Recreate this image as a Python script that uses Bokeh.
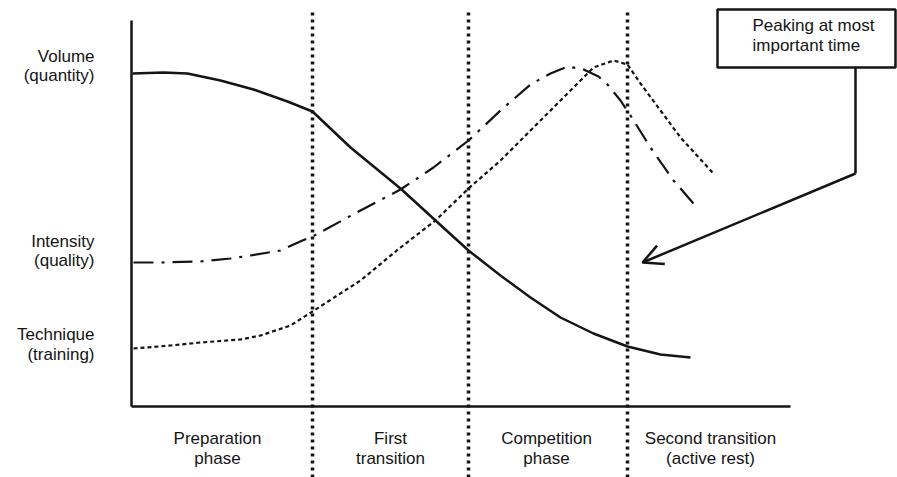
from bokeh.plotting import figure
from bokeh.models import Range1d, Arrow, OpenHead
from bokeh.core.properties import value
from bokeh.embed import file_html
from bokeh.resources import INLINE

# ---- data (time units along x, training level along y) ----
vol_x = [1, 32, 56, 89, 122, 156, 181, 219, 269, 304, 337, 369, 399, 429, 462, 496, 529, 559]
vol_y = [333, 334, 333, 326, 317, 305, 295, 259, 218, 186, 156, 131, 109, 89, 73, 60, 52, 49]

int_x = [2, 29, 69, 99, 119, 149, 171, 181, 229, 269, 302, 337, 369, 399, 419, 436, 452, 467, 476, 489, 499, 519, 542, 562]
int_y = [144, 144, 145, 148, 151, 156, 166, 170, 196, 217, 239, 266, 296, 322, 333, 340, 337, 330, 322, 306, 291, 259, 226, 203]

tec_x = [2, 39, 69, 109, 129, 159, 181, 229, 269, 304, 337, 369, 399, 429, 442, 462, 482, 496, 509, 529, 549, 581]
tec_y = [58, 61, 64, 67, 71, 81, 95, 126, 159, 186, 218, 246, 276, 306, 319, 339, 346, 342, 323, 296, 269, 234]

phase_bounds = [181, 337, 496]
axis_x_end = 659
axis_y_end = 386

left_labels = ["Volume", "(quantity)", "Intensity", "(quality)", "Technique", "(training)"]
left_label_y = [350, 331, 165, 146, 72, 52]

phase_labels_1 = ["Preparation", "First", "Competition", "Second transition"]
phase_labels_2 = ["phase", "transition", "phase", "(active rest)"]
phase_label_x = [86, 259, 415, 579]

note_lines = ["Peaking at most", "important time"]

INK = "#141414"
FONT = value("Liberation Sans")

W, H = 897, 477
p = figure(width=W, height=H, output_backend="svg", toolbar_location=None,
           x_range=Range1d(-131, 766), y_range=Range1d(-71, 406),
           min_border=0, outline_line_color=None)
p.axis.visible = False
p.grid.visible = False
p.background_fill_color = "white"

# axes drawn as plain lines
p.line([0, 0], [0, axis_y_end], line_color=INK, line_width=2.5)
p.line([0, axis_x_end], [0, 0], line_color=INK, line_width=2.5)

# phase boundaries
for b in phase_bounds:
    p.line([b, b], [-71, 396], line_color=INK, line_width=3.5, line_dash="3 4")

# curves
p.line(vol_x, vol_y, line_color=INK, line_width=2.5, line_join="round")
p.line(int_x, int_y, line_color=INK, line_width=2.2, line_dash="20 8 3 8")
p.line(tec_x, tec_y, line_color=INK, line_width=2.2, line_dash="4 3")

# left labels
p.text(x=[-37] * len(left_labels), y=left_label_y, text=left_labels,
       text_font=FONT, text_font_size="17px", text_color=INK,
       text_align="right", text_baseline="middle")

# phase labels
p.text(x=phase_label_x, y=[-32] * 4, text=phase_labels_1, text_font=FONT,
       text_font_size="17px", text_color=INK, text_align="center", text_baseline="middle")
p.text(x=phase_label_x, y=[-52] * 4, text=phase_labels_2, text_font=FONT,
       text_font_size="17px", text_color=INK, text_align="center", text_baseline="middle")

# annotation box
p.quad(left=[586], right=[764], top=[397], bottom=[339], fill_color="white",
       line_color=INK, line_width=2.5)
p.text(x=[621, 621], y=[381, 361], text=note_lines, text_font=FONT,
       text_font_size="17px", text_color=INK, text_align="left", text_baseline="middle")
p.line([724, 724], [339, 233], line_color=INK, line_width=2.5)
p.add_layout(Arrow(end=OpenHead(size=20, line_width=2.5, line_color=INK),
                   x_start=724, y_start=233, x_end=511, y_end=144,
                   line_color=INK, line_width=2.5))

open("out.html", "w").write(file_html(p, INLINE))
